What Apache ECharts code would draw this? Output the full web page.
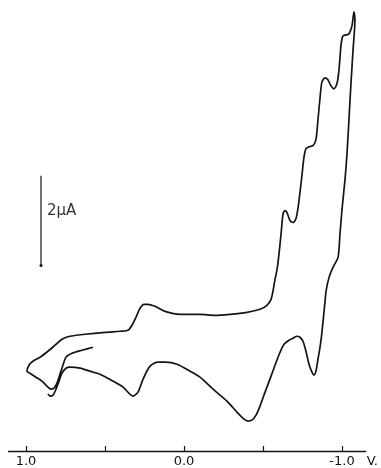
<!DOCTYPE html>
<html>
<head>
<meta charset="utf-8">
<script src="https://cdn.jsdelivr.net/npm/echarts@6/dist/echarts.min.js"></script>
<style>
  html, body { margin: 0; padding: 0; background: #fff; }
  #chart { width: 381px; height: 468px; }
</style>
</head>
<body>
<div id="chart"></div>
<script>
// Cyclic voltammogram: potential (V) vs current (µA).
// Initial anodic sweep from +0.58 V to the +1.0 V vertex.
const sweepStart = [
  [0.576, 2.311], [0.646, 2.244], [0.709, 2.178], [0.747, 2.089], [0.766, 1.911],
  [0.785, 1.711], [0.804, 1.511], [0.823, 1.400], [0.842, 1.378], [0.867, 1.444],
  [0.899, 1.556], [0.937, 1.644], [0.975, 1.733], [0.994, 1.778]
];

// Cathodic sweep from +1.0 V to the -1.08 V vertex.
const sweepCathodic = [
  [0.981, 1.911], [0.956, 2.000], [0.911, 2.089], [0.861, 2.222], [0.816, 2.356],
  [0.772, 2.489], [0.722, 2.556], [0.627, 2.600], [0.500, 2.644], [0.405, 2.667],
  [0.354, 2.689], [0.329, 2.800], [0.304, 2.978], [0.278, 3.178], [0.253, 3.267],
  [0.228, 3.267], [0.184, 3.222], [0.120, 3.111], [0.025, 3.044], [-0.101, 3.044],
  [-0.196, 3.022], [-0.291, 3.044], [-0.399, 3.089], [-0.481, 3.156], [-0.525, 3.244],
  [-0.551, 3.378], [-0.563, 3.556], [-0.576, 3.822], [-0.589, 4.044], [-0.601, 4.378],
  [-0.614, 4.822], [-0.627, 5.289], [-0.639, 5.356], [-0.652, 5.311], [-0.671, 5.133],
  [-0.690, 5.089], [-0.709, 5.178], [-0.722, 5.422], [-0.734, 5.756], [-0.747, 6.156],
  [-0.759, 6.533], [-0.772, 6.733], [-0.791, 6.778], [-0.816, 6.800], [-0.835, 6.933],
  [-0.848, 7.378], [-0.861, 7.867], [-0.873, 8.222], [-0.892, 8.311], [-0.911, 8.267],
  [-0.930, 8.133], [-0.949, 8.067], [-0.968, 8.178], [-0.981, 8.489], [-0.994, 9.044],
  [-1.006, 9.244], [-1.025, 9.267], [-1.044, 9.289], [-1.063, 9.467], [-1.076, 9.778]
];

// Return (anodic) sweep from -1.08 V back to +0.86 V.
const sweepReturn = [
  [-1.082, 9.600], [-1.070, 8.933], [-1.057, 8.200], [-1.044, 7.378], [-1.032, 6.644],
  [-1.019, 6.044], [-1.000, 5.378], [-0.987, 4.822], [-0.975, 4.311], [-0.943, 4.089],
  [-0.918, 3.867], [-0.899, 3.556], [-0.892, 3.311], [-0.873, 2.644], [-0.861, 2.311],
  [-0.848, 2.044], [-0.835, 1.778], [-0.823, 1.689], [-0.810, 1.756], [-0.791, 1.933],
  [-0.772, 2.222], [-0.753, 2.444], [-0.734, 2.533], [-0.715, 2.556], [-0.690, 2.511],
  [-0.665, 2.467], [-0.633, 2.378], [-0.608, 2.200], [-0.576, 1.911], [-0.544, 1.600],
  [-0.513, 1.311], [-0.481, 1.000], [-0.456, 0.800], [-0.430, 0.689], [-0.405, 0.667],
  [-0.380, 0.711], [-0.335, 0.867], [-0.272, 1.111], [-0.184, 1.378], [-0.101, 1.644],
  [-0.038, 1.778], [0.044, 1.933], [0.120, 1.978], [0.165, 1.978], [0.215, 1.889],
  [0.259, 1.600], [0.291, 1.311], [0.323, 1.222], [0.386, 1.422], [0.449, 1.556],
  [0.532, 1.711], [0.576, 1.756], [0.658, 1.844], [0.722, 1.867], [0.747, 1.844],
  [0.772, 1.733], [0.791, 1.556], [0.810, 1.378], [0.829, 1.244], [0.848, 1.222],
  [0.861, 1.267]
];

// Potential axis ticks and labels (V).
const tickValues = [1.0, 0.5, 0.0, -0.5, -1.0];
const labelValues = [1.0, 0.0, -1.0];

// Current scale bar: 2 µA drawn at +0.905 V.
const scaleBarPotential = 0.905;
const scaleBarBottom = 4.133;
const scaleBarSpan = 2;

const trace = sweepStart.concat(sweepCathodic, sweepReturn);
const ink = '#141414';
const font = 'DejaVu Sans';

const chart = echarts.init(document.getElementById('chart'), null, { renderer: 'canvas' });
chart.setOption({
  animation: false,
  backgroundColor: '#ffffff',
  grid: { left: 8.6, right: 15.3, top: 2, bottom: 16 },
  xAxis: {
    type: 'value',
    inverse: true,
    min: -1.15,
    max: 1.11,
    splitLine: { show: false },
    axisLine: { show: true, onZero: false, lineStyle: { color: ink, width: 1.4 } },
    axisTick: { show: true, inside: true, length: 5, customValues: tickValues,
      lineStyle: { color: ink, width: 1.2 } },
    axisLabel: { show: true, customValues: labelValues, margin: 4,
      color: ink, fontFamily: font, fontSize: 13,
      formatter: v => v.toFixed(1) }
  },
  yAxis: {
    type: 'value', min: 0, max: 10, show: false,
    splitLine: { show: false }
  },
  graphic: [{
    type: 'text', right: 3, bottom: 0,
    style: { text: 'V.', font: '13px "DejaVu Sans"', fill: ink }
  }],
  series: [
    {
      name: 'CV', type: 'line', data: trace, showSymbol: false, smooth: 0.25,
      lineStyle: { color: ink, width: 1.7 }, silent: true
    },
    {
      name: 'scale', type: 'line',
      data: [[scaleBarPotential, scaleBarBottom + scaleBarSpan], [scaleBarPotential, scaleBarBottom]],
      showSymbol: true, symbol: 'none',
      lineStyle: { color: ink, width: 1.2 }, silent: true,
      markPoint: {
        symbol: 'circle', symbolSize: 3, itemStyle: { color: ink },
        data: [{ coord: [scaleBarPotential, scaleBarBottom] }],
        label: { show: false }
      }
    },
    {
      name: 'scaleLabel', type: 'scatter', symbolSize: 0,
      data: [[scaleBarPotential, scaleBarBottom + scaleBarSpan * 0.6]],
      label: { show: true, position: 'right', distance: 6, formatter: '2\u03bcA',
        color: '#000', fontFamily: font, fontSize: 15 },
      silent: true
    }
  ]
});
</script>
</body>
</html>
